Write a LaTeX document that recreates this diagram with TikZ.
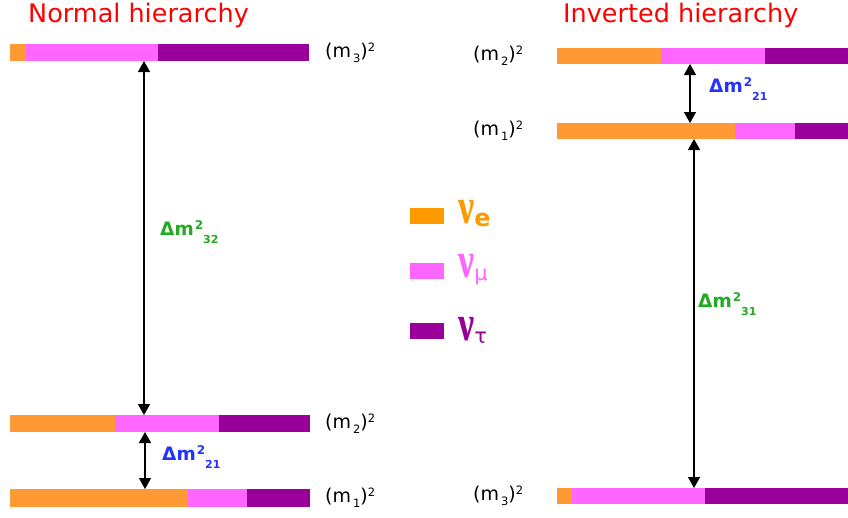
\documentclass[tikz,border=0pt]{standalone}
\usepackage{fontspec}
\setmainfont{DejaVu Sans}
\newfontfamily\nufont{Liberation Serif}
\usetikzlibrary{arrows.meta}
\definecolor{cE}{HTML}{FF9933}
\definecolor{cM}{HTML}{FF66FF}
\definecolor{cT}{HTML}{990099}
\definecolor{cEl}{HTML}{FF9900}
\definecolor{tred}{HTML}{FF0000}
\definecolor{tgreen}{HTML}{22AA22}
\definecolor{tblue}{HTML}{2233FF}
\newcommand\nbar[7]{%
  \node[barnode, minimum width={#6-#2}, minimum height=#7] (#1) at (#2,#3) {};
  \fill[cE] (#2,#3) rectangle (#4,#3+#7);
  \fill[cM] (#4,#3) rectangle (#5,#3+#7);
  \fill[cT] (#5,#3) rectangle (#6,#3+#7);
}
\newcommand\mlabtxt[2]{(m\kern2pt\raisebox{-5pt}{\fontsize{11.5}{11.5}\selectfont #1})\raisebox{6pt}{\fontsize{11.5}{11.5}\selectfont #2}}
\newcommand\dmtxt[1]{Δm\kern1pt\raisebox{6pt}{\fontsize{12}{12}\selectfont 2}\raisebox{-8pt}{\fontsize{11}{11}\selectfont #1}}
\newcommand\nutxt{\scalebox{1}[1.4]{\nufont\bfseries\fontsize{36}{36}\selectfont ν}}
\begin{document}
\begin{tikzpicture}[x=1pt,y=-1pt,
  barnode/.style={inner sep=0pt, outer sep=0pt, anchor=north west, draw=none},
  mlab/.style={font=\fontsize{19}{19}\selectfont, anchor=west, inner sep=0pt},
  dlab/.style={font=\fontsize{18.5}{18.5}\selectfont\bfseries, anchor=west, inner sep=0pt},
  title/.style={text=tred, font=\fontsize{25.5}{25.5}\selectfont, anchor=west, inner sep=0pt},
  arr/.style={{Triangle[length=11pt,width=12pt]}-{Triangle[length=11pt,width=12pt]}, line width=1.4pt},
  leg/.style={minimum width=34pt, minimum height=16pt, inner sep=0pt, anchor=north west},
  legtxt/.style={anchor=west, inner sep=0pt}]
\useasboundingbox (0,0) rectangle (848,517);
% titles
\node[title] (t1) at (28,15) {Normal hierarchy};
\node[title] (t2) at (563,15) {Inverted hierarchy};
% left bars
\nbar{n3}{10}{44}{26}{158}{309}{17}
\nbar{n2}{10}{415}{115}{219}{310}{17}
\nbar{n1}{10}{489}{188}{247}{310}{18}
% right bars
\nbar{r2}{557}{48}{661}{765}{848}{16}
\nbar{r1}{557}{123}{735}{795}{848}{16}
\nbar{r3}{557}{488}{572}{705}{848}{16}
% mass labels
\node[mlab] (ln3) at (325,53) {\mlabtxt{3}{2}};
\node[mlab] (ln2) at (325,424) {\mlabtxt{2}{2}};
\node[mlab] (ln1) at (325,498) {\mlabtxt{1}{2}};
\node[mlab] (lr2) at (473,56) {\mlabtxt{2}{2}};
\node[mlab] (lr1) at (473,131) {\mlabtxt{1}{2}};
\node[mlab] (lr3) at (473,496) {\mlabtxt{3}{2}};
% arrows
\coordinate (a1) at (144,0);
\coordinate (a2) at (145,0);
\coordinate (b1) at (690,0);
\coordinate (b2) at (694,0);
\draw[arr] (n3.south -| a1) -- (n2.north -| a1);
\draw[arr] (n2.south -| a2) -- (n1.north -| a2);
\draw[arr] (r2.south -| b1) -- (r1.north -| b1);
\draw[arr] (r1.south -| b2) -- (r3.north -| b2);
% delta labels
\node[dlab, text=tgreen] (d32) at (160,232) {\dmtxt{32}};
\node[dlab, text=tblue] (d21) at (162,457) {\dmtxt{21}};
\node[dlab, text=tblue] (e21) at (709,89) {\dmtxt{21}};
\node[dlab, text=tgreen] (e31) at (698,304) {\dmtxt{31}};
% legend
\node[leg, fill=cEl] (ge) at (410,208) {};
\node[leg, fill=cM] (gm) at (410,263) {};
\node[leg, fill=cT] (gt) at (410,323) {};
\node[legtxt, text=cEl] (le) at (458,214) {\nutxt\raisebox{-0.3em}{\fontsize{24}{24}\selectfont\bfseries e}};
\node[legtxt, text=cM] (lm) at (458,270) {\nutxt\raisebox{-0.3em}{\fontsize{21}{21}\selectfont μ}};
\node[legtxt, text=cT] (lt) at (458,330) {\nutxt\raisebox{-0.3em}{\fontsize{21}{21}\selectfont τ}};
\end{tikzpicture}
\end{document}
